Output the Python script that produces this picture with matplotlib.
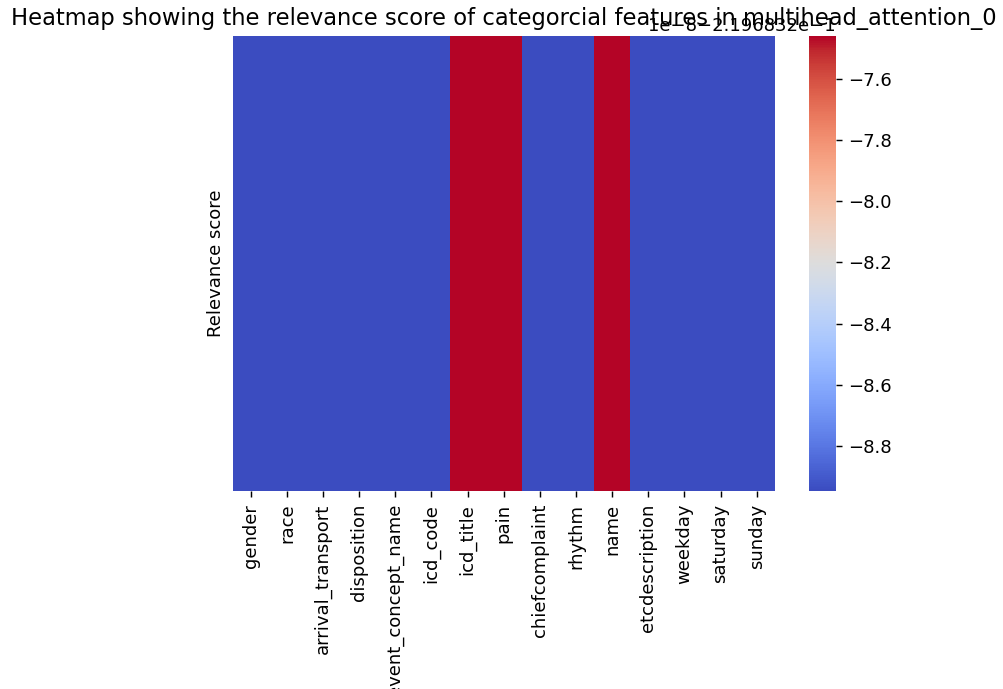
import numpy as np
import matplotlib
matplotlib.use("Agg")
import matplotlib.pyplot as plt
import seaborn as sns

features = ["gender", "race", "arrival_transport", "disposition", "event_concept_name",
            "icd_code", "icd_title", "pain", "chiefcomplaint", "rhythm", "name",
            "etcdescription", "weekday", "saturday", "sunday"]

# relevance scores per categorical feature (single attention head row)
base_score = -0.2196832
low_score = base_score - 8.947e-8
high_score = base_score - 7.46e-8
scores = [low_score, low_score, low_score, low_score, low_score,
          low_score, high_score, high_score, low_score, low_score, high_score,
          low_score, low_score, low_score, low_score]

dpi = 130
W, H = 1003, 689
fig = plt.figure(figsize=(W / dpi, H / dpi), dpi=dpi)
ax = fig.add_axes([232.7 / W, 1 - 491 / H, (774.7 - 232.7) / W, (491 - 36) / H])
cax = fig.add_axes([809 / W, 1 - 491 / H, (835.7 - 809) / W, (491 - 36) / H])

data = np.array([scores], dtype=np.float64)
sns.heatmap(data, ax=ax, cbar_ax=cax, cmap="coolwarm",
            xticklabels=features, yticklabels=False)
ax.set_ylabel("Relevance score")
ax.set_title("Heatmap showing the relevance score of categorcial features in multihead_attention_0",
             fontsize=12.5)
plt.setp(ax.get_xticklabels(), rotation=90)

fig.savefig("out.png", dpi=dpi)
